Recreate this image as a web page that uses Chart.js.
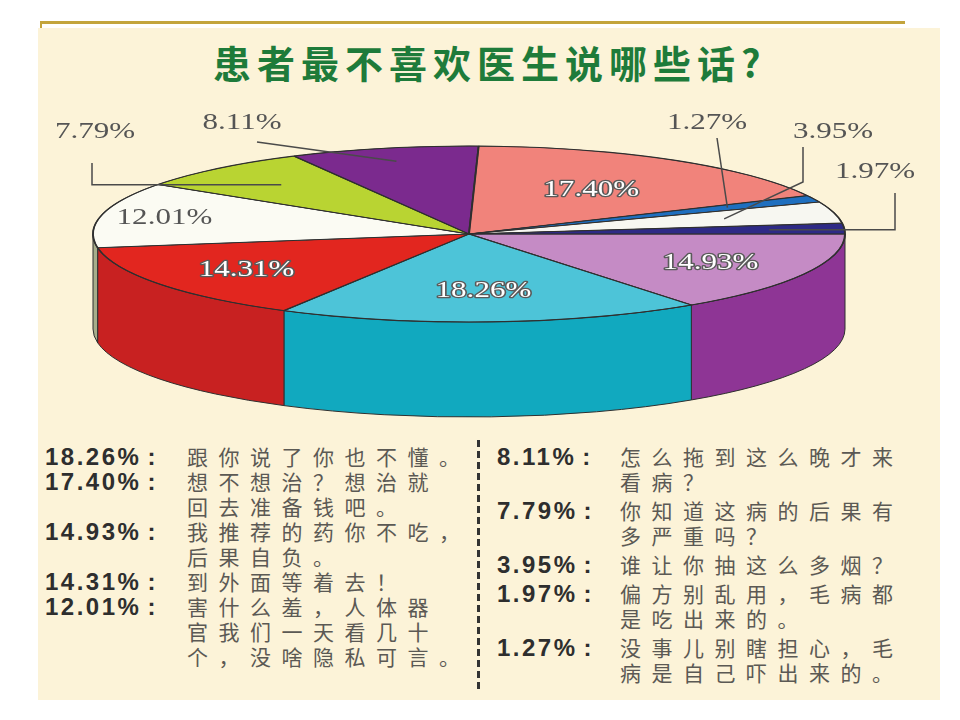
<!DOCTYPE html>
<html lang="zh">
<head>
<meta charset="utf-8">
<script src="https://cdn.jsdelivr.net/npm/chart.js@4"></script>
<style>
  html, body { margin: 0; padding: 0; background: #fff; }
  #page { position: relative; width: 960px; height: 720px; overflow: hidden; }
  #rule { position: absolute; left: 40px; top: 21px; width: 865px; height: 3px; background: #c3a43c; }
  #tick { position: absolute; left: 40px; top: 21px; width: 2px; height: 7px; background: #c3a43c; }
  #panel { position: absolute; left: 38px; top: 28px; width: 902px; height: 672px; background: #fcf3d8; }
  #title { position: absolute; left: 213px; top: 40px; font: bold 38px "Noto Sans CJK SC", sans-serif;
           letter-spacing: 6px; color: #1e7b3a; line-height: 44px; white-space: nowrap; }
  #chart { position: absolute; left: 0; top: 0; }
  .col { position: absolute; top: 444px; }
  .row { display: flex; }
  .pct { font: bold 24px "Liberation Sans", Arial, sans-serif; line-height: 25px; letter-spacing: 2.5px;
         color: #2e2e2e; white-space: nowrap; }
  .pct span { margin-left: 6px; }
  .txt { font: 21px "Noto Sans CJK SC", sans-serif; line-height: 25px; letter-spacing: 10.5px;
         color: #5b5954; white-space: nowrap; }
  #right .row + .row { margin-top: 4px; }
  #divider { position: absolute; left: 477px; top: 440px; width: 3px; height: 252px;
             background: repeating-linear-gradient(to bottom, #333 0 7px, transparent 7px 11px); }
</style>
</head>
<body>
<div id="page">
  <div id="rule"></div>
  <div id="tick"></div>
  <div id="panel"></div>
  <div id="title">患者最不喜欢医生说哪些话?</div>
  <canvas id="chart" width="960" height="440"></canvas>
  <div id="left" class="col" style="left:45px"></div>
  <div id="divider"></div>
  <div id="right" class="col" style="left:497px"></div>
</div>
<script>
'use strict';

// slices in drawing order, clockwise from 3 o'clock
const categories = [
  ['我推荐的药你不吃，', '后果自负。'],
  ['跟你说了你也不懂。'],
  ['到外面等着去！'],
  ['害什么羞，人体器', '官我们一天看几十', '个，没啥隐私可言。'],
  ['你知道这病的后果有', '多严重吗？'],
  ['怎么拖到这么晚才来', '看病？'],
  ['想不想治？想治就', '回去准备钱吧。'],
  ['没事儿别瞎担心，毛', '病是自己吓出来的。'],
  ['谁让你抽这么多烟？'],
  ['偏方别乱用，毛病都', '是吃出来的。']
];
const shares = [14.93, 18.26, 14.31, 12.01, 7.79, 8.11, 17.40, 1.27, 3.95, 1.97];

const topColors  = ['#c58bc5', '#4dc4d8', '#e2261f', '#fbfbf3', '#b9d432', '#7b2a8e', '#f1837b', '#1f6fbf', '#f7f7f1', '#2e2a86'];
const wallColors = ['#8e3595', '#11a9bf', '#c82121', '#a7ad8b', '#8fa726', '#5a1f69', '#c9625c', '#17538f', '#c9c9c2', '#201e60'];

// where the 3D pie sits on the page
const TX = 469, TY = 234, RX = 376, RY = 88, DEPTH = 95;

// label placement per slice: f = fraction of radius for the anchor point
const labelLayout = [
  { kind: 'in', f: 0.72, white: true },
  { kind: 'in', f: 0.65, white: true },
  { kind: 'in', f: 0.72, white: true },
  { kind: 'in', f: 0.83, white: false },
  { kind: 'elbow', f: 0.75, tx: 95, ty: 132, ex: 92, ey: 163 },
  { kind: 'line', f: 0.85, tx: 242, ty: 123, ex: 257, ey: 142 },
  { kind: 'in', f: 0.6, white: true },
  { kind: 'line', f: 0.75, tx: 707, ty: 123, ex: 717, ey: 138 },
  { kind: 'bent', f: 0.7, tx: 833, ty: 132, ex: 803, ey: 147, ey2: 182 },
  { kind: 'elbow', f: 0.8, tx: 875, ty: 172, ex: 895, ey: 193 }
];

function ellPt(t, f) {
  return [TX + f * RX * Math.cos(t), TY + f * RY * Math.sin(t)];
}

function drawLabel(ctx, text, x, y, fill, stroke) {
  ctx.save();
  ctx.translate(x, y);
  ctx.scale(1.35, 1);
  ctx.font = '23px "Liberation Serif", "DejaVu Serif", serif';
  ctx.textAlign = 'center';
  ctx.textBaseline = 'middle';
  if (stroke) {
    ctx.lineWidth = 2.5;
    ctx.lineJoin = 'round';
    ctx.strokeStyle = stroke;
    ctx.strokeText(text, 0, 0);
  }
  ctx.fillStyle = fill;
  ctx.fillText(text, 0, 0);
  ctx.restore();
}

const pie3d = {
  id: 'pie3d',
  beforeDatasetsDraw(chart) {
    const ctx = chart.ctx;
    const arcs = chart.getDatasetMeta(0).data;
    // side walls: only the front half is visible
    arcs.forEach((arc, i) => {
      const a0 = Math.max(arc.startAngle, 0);
      const a1 = Math.min(arc.endAngle, Math.PI);
      if (a1 <= a0) return;
      ctx.beginPath();
      ctx.ellipse(TX, TY, RX, RY, 0, a0, a1);
      ctx.ellipse(TX, TY + DEPTH, RX, RY, 0, a1, a0, true);
      ctx.closePath();
      ctx.fillStyle = wallColors[i];
      ctx.fill();
      ctx.strokeStyle = '#2f2f2f';
      ctx.lineWidth = 1;
      ctx.stroke();
    });
    // squash the flat pie into the top ellipse
    const a = arcs[0];
    ctx.save();
    ctx.translate(TX, TY);
    ctx.scale(RX / a.outerRadius, RY / a.outerRadius);
    ctx.translate(-a.x, -a.y);
  },
  afterDatasetsDraw(chart) {
    const ctx = chart.ctx;
    ctx.restore();
    const arcs = chart.getDatasetMeta(0).data;

    ctx.strokeStyle = '#2f2f2f';
    ctx.lineWidth = 1.2;
    arcs.forEach(arc => {
      const [x, y] = ellPt(arc.startAngle, 1);
      ctx.beginPath();
      ctx.moveTo(TX, TY);
      ctx.lineTo(x, y);
      ctx.stroke();
    });
    ctx.beginPath();
    ctx.ellipse(TX, TY, RX, RY, 0, 0, Math.PI * 2);
    ctx.stroke();

    arcs.forEach((arc, i) => {
      const lay = labelLayout[i];
      const mid = (arc.startAngle + arc.endAngle) / 2;
      const [ax, ay] = ellPt(mid, lay.f);
      const text = shares[i].toFixed(2) + '%';
      if (lay.kind === 'in') {
        if (lay.white) drawLabel(ctx, text, ax, ay, '#ffffff', '#5a5a5a');
        else drawLabel(ctx, text, ax, ay, '#555555');
        return;
      }
      ctx.strokeStyle = '#4a4a4a';
      ctx.lineWidth = 1.5;
      ctx.beginPath();
      ctx.moveTo(lay.ex, lay.ey);
      if (lay.kind === 'elbow') {
        ctx.lineTo(lay.ex, ay);
      } else if (lay.kind === 'bent') {
        ctx.lineTo(lay.ex, lay.ey2);
      }
      ctx.lineTo(ax, ay);
      ctx.stroke();
      drawLabel(ctx, text, lay.tx, lay.ty, '#555555');
    });
  }
};

new Chart(document.getElementById('chart'), {
  type: 'pie',
  data: {
    labels: categories,
    datasets: [{
      data: shares,
      backgroundColor: topColors,
      borderColor: '#333333',
      borderWidth: 1,
      clip: false
    }]
  },
  options: {
    responsive: false,
    animation: false,
    events: [],
    rotation: 90,
    layout: { padding: { left: 280, right: 280, top: 20, bottom: 20 } },
    plugins: {
      legend: { display: false },
      tooltip: { enabled: false }
    }
  },
  plugins: [pie3d]
});

// text key under the pie, largest share first
function fillColumn(el, idx) {
  idx.forEach(i => {
    const row = document.createElement('div');
    row.className = 'row';
    const pct = document.createElement('div');
    pct.className = 'pct';
    pct.style.width = el.id === 'left' ? '142px' : '123px';
    pct.innerHTML = shares[i].toFixed(2) + '%<span>:</span>';
    const txt = document.createElement('div');
    txt.className = 'txt';
    txt.innerHTML = categories[i].join('<br>');
    row.appendChild(pct);
    row.appendChild(txt);
    el.appendChild(row);
  });
}
const order = shares.map((v, i) => i).sort((a, b) => shares[b] - shares[a]);
fillColumn(document.getElementById('left'), order.slice(0, 5));
fillColumn(document.getElementById('right'), order.slice(5));
</script>
</body>
</html>
